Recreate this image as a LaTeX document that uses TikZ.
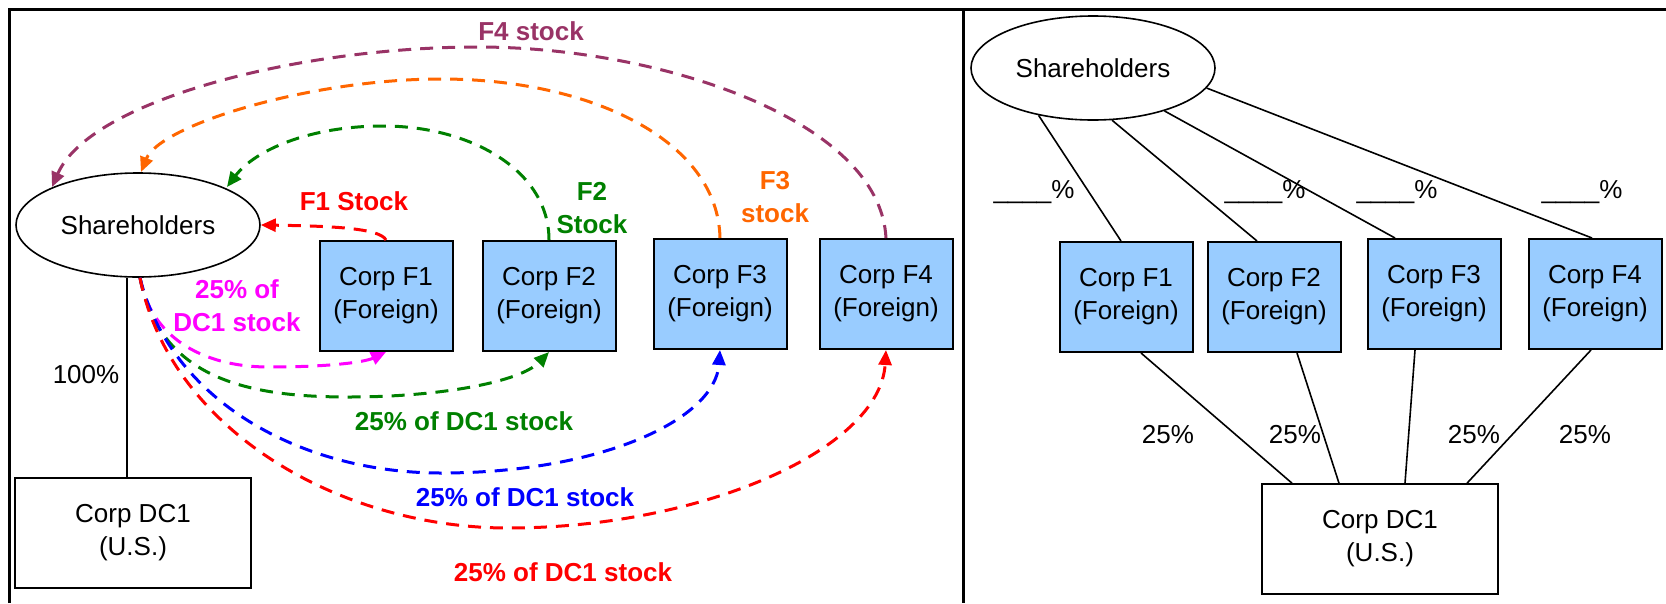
\documentclass[tikz,border=0pt]{standalone}
\usepackage{fontspec}
\setmainfont{Liberation Sans}
\usetikzlibrary{arrows.meta,calc,shapes.geometric}

\definecolor{corpfill}{HTML}{99CCFF}
\definecolor{cpurple}{HTML}{993366}
\definecolor{corange}{HTML}{FF6600}
\definecolor{cgreen}{HTML}{008000}
\definecolor{cred}{HTML}{FF0000}
\definecolor{cblue}{HTML}{0000FF}
\definecolor{cmagenta}{HTML}{FF00FF}

\begin{document}
\begin{tikzpicture}[x=1pt,y=-1pt,
  every node/.style={font=\fontsize{26}{33}\selectfont, inner sep=0pt},
  corp/.style={draw=black, line width=2pt, fill=corpfill, minimum width=133pt,
    minimum height=110pt, align=center},
  usbox/.style={draw=black, line width=1.6pt, fill=white, minimum width=236pt,
    minimum height=110pt, align=center},
  holders/.style={draw=black, line width=1.6pt, fill=white, ellipse,
    minimum width=244pt, minimum height=104pt},
  flow/.style={line width=3pt, dash pattern=on 13pt off 9pt,
    -{Triangle[length=15pt,width=13pt]}},
  tag/.style={font=\fontsize{26}{33}\selectfont\bfseries, align=center},
  link/.style={line width=1.6pt},
  frame/.style={line width=3pt},
]
\useasboundingbox (0,0) rectangle (1666,603);

% panel frame
\draw[frame] (9,603) -- (9,9) -- (1666,9);
\draw[frame] (963,9) -- (963,603);

% ---------------- left panel ----------------
\node[holders] (shL) at (138,225) {Shareholders};
\node[usbox] (dcL) at (133,533) {Corp DC1\\(U.S.)};
\node[corp] (f1L) at (386,296) {Corp F1\\(Foreign)};
\node[corp] (f2L) at (549,296) {Corp F2\\(Foreign)};
\node[corp] (f3L) at (720,294) {Corp F3\\(Foreign)};
\node[corp] (f4L) at (886,294) {Corp F4\\(Foreign)};

\coordinate (dcTop) at ($(dcL.north)+(-6,0)$);
\draw[link] (dcTop) -- (dcTop |- shL.south);
\node (pct100) at (86,375) {100\%};

% stock of each foreign corporation going to the shareholders
\draw[flow, cred] (f1L.north) .. controls (380,228) and (330,226) .. (shL.east);
\draw[flow, cgreen] (f2L.north) .. controls (549,170) and (470,126) .. (383,126)
  .. controls (310,126) and (255,150) .. (227,187);
\draw[flow, corange] (f3L.north) .. controls (718,140) and (590,79) .. (441,79)
  .. controls (310,79) and (160,125) .. (141,172);
\draw[flow, cpurple] (f4L.north) .. controls (880,120) and (660,47) .. (478,47)
  .. controls (300,47) and (90,100) .. (52,187);

% DC1 stock going to each foreign corporation
\coordinate (shBot) at ($(shL.south)+(2,0)$);
\draw[flow, cmagenta] (shBot) .. controls (150,335) and (200,367) .. (269,367)
  .. controls (330,367) and (365,362) .. (f1L.south);
\draw[flow, cgreen] (shBot) .. controls (160,380) and (250,397) .. (349,397)
  .. controls (440,397) and (520,382) .. (f2L.south);
\draw[flow, cblue] (shBot) .. controls (170,400) and (300,473) .. (441,473)
  .. controls (600,473) and (715,420) .. (f3L.south);
\draw[flow, cred] (shBot) .. controls (170,430) and (340,528) .. (508,528)
  .. controls (700,528) and (880,450) .. (f4L.south);

\node[tag, cpurple] (lf4) at (531,31) {F4 stock};
\node[tag, corange] (lf3) at (775,197) {F3\\stock};
\node[tag, cgreen] (lf2) at (592,208) {F2\\Stock};
\node[tag, cred] (lf1) at (354,201) {F1 Stock};
\node[tag, cmagenta] (ld1) at (237,306) {25\% of\\DC1 stock};
\node[tag, cgreen] (ld2) at (464,421) {25\% of DC1 stock};
\node[tag, cblue] (ld3) at (525,497) {25\% of DC1 stock};
\node[tag, cred] (ld4) at (563,572) {25\% of DC1 stock};

% ---------------- right panel ----------------
\node[holders] (shR) at (1093,68) {Shareholders};
\node[corp] (f1R) at (1126,297) {Corp F1\\(Foreign)};
\node[corp] (f2R) at (1274,297) {Corp F2\\(Foreign)};
\node[corp] (f3R) at (1434,294) {Corp F3\\(Foreign)};
\node[corp] (f4R) at (1595,294) {Corp F4\\(Foreign)};
\node[usbox] (dcR) at (1380,539) {Corp DC1\\(U.S.)};

\draw[link] (shR.221.7) -- ($(f1R.north)+(-5,0)$);
\draw[link] (shR.290.3) -- ($(f2R.north)+(-17,0)$);
\draw[link] (shR.329.6) -- ($(f3R.north)+(-39,0)$);
\draw[link] (shR.350.3) -- ($(f4R.north)+(-3,0)$);

\draw[link] ($(f1R.south)+(15,0)$) -- ($(dcR.north)+(-88,0)$);
\draw[link] ($(f2R.south)+(23,0)$) -- ($(dcR.north)+(-41,0)$);
\draw[link] ($(f3R.south)+(-19,0)$) -- ($(dcR.north)+(25,0)$);
\draw[link] ($(f4R.south)+(-4,0)$) -- ($(dcR.north)+(87,0)$);

\node (p1) at (1034,192) {\_\_\_\_\%};
\node (p2) at (1265,192) {\_\_\_\_\%};
\node (p3) at (1397,192) {\_\_\_\_\%};
\node (p4) at (1582,192) {\_\_\_\_\%};

\node (q1) at (1168,435) {25\%};
\node (q2) at (1295,435) {25\%};
\node (q3) at (1474,435) {25\%};
\node (q4) at (1585,435) {25\%};
\end{tikzpicture}
\end{document}
